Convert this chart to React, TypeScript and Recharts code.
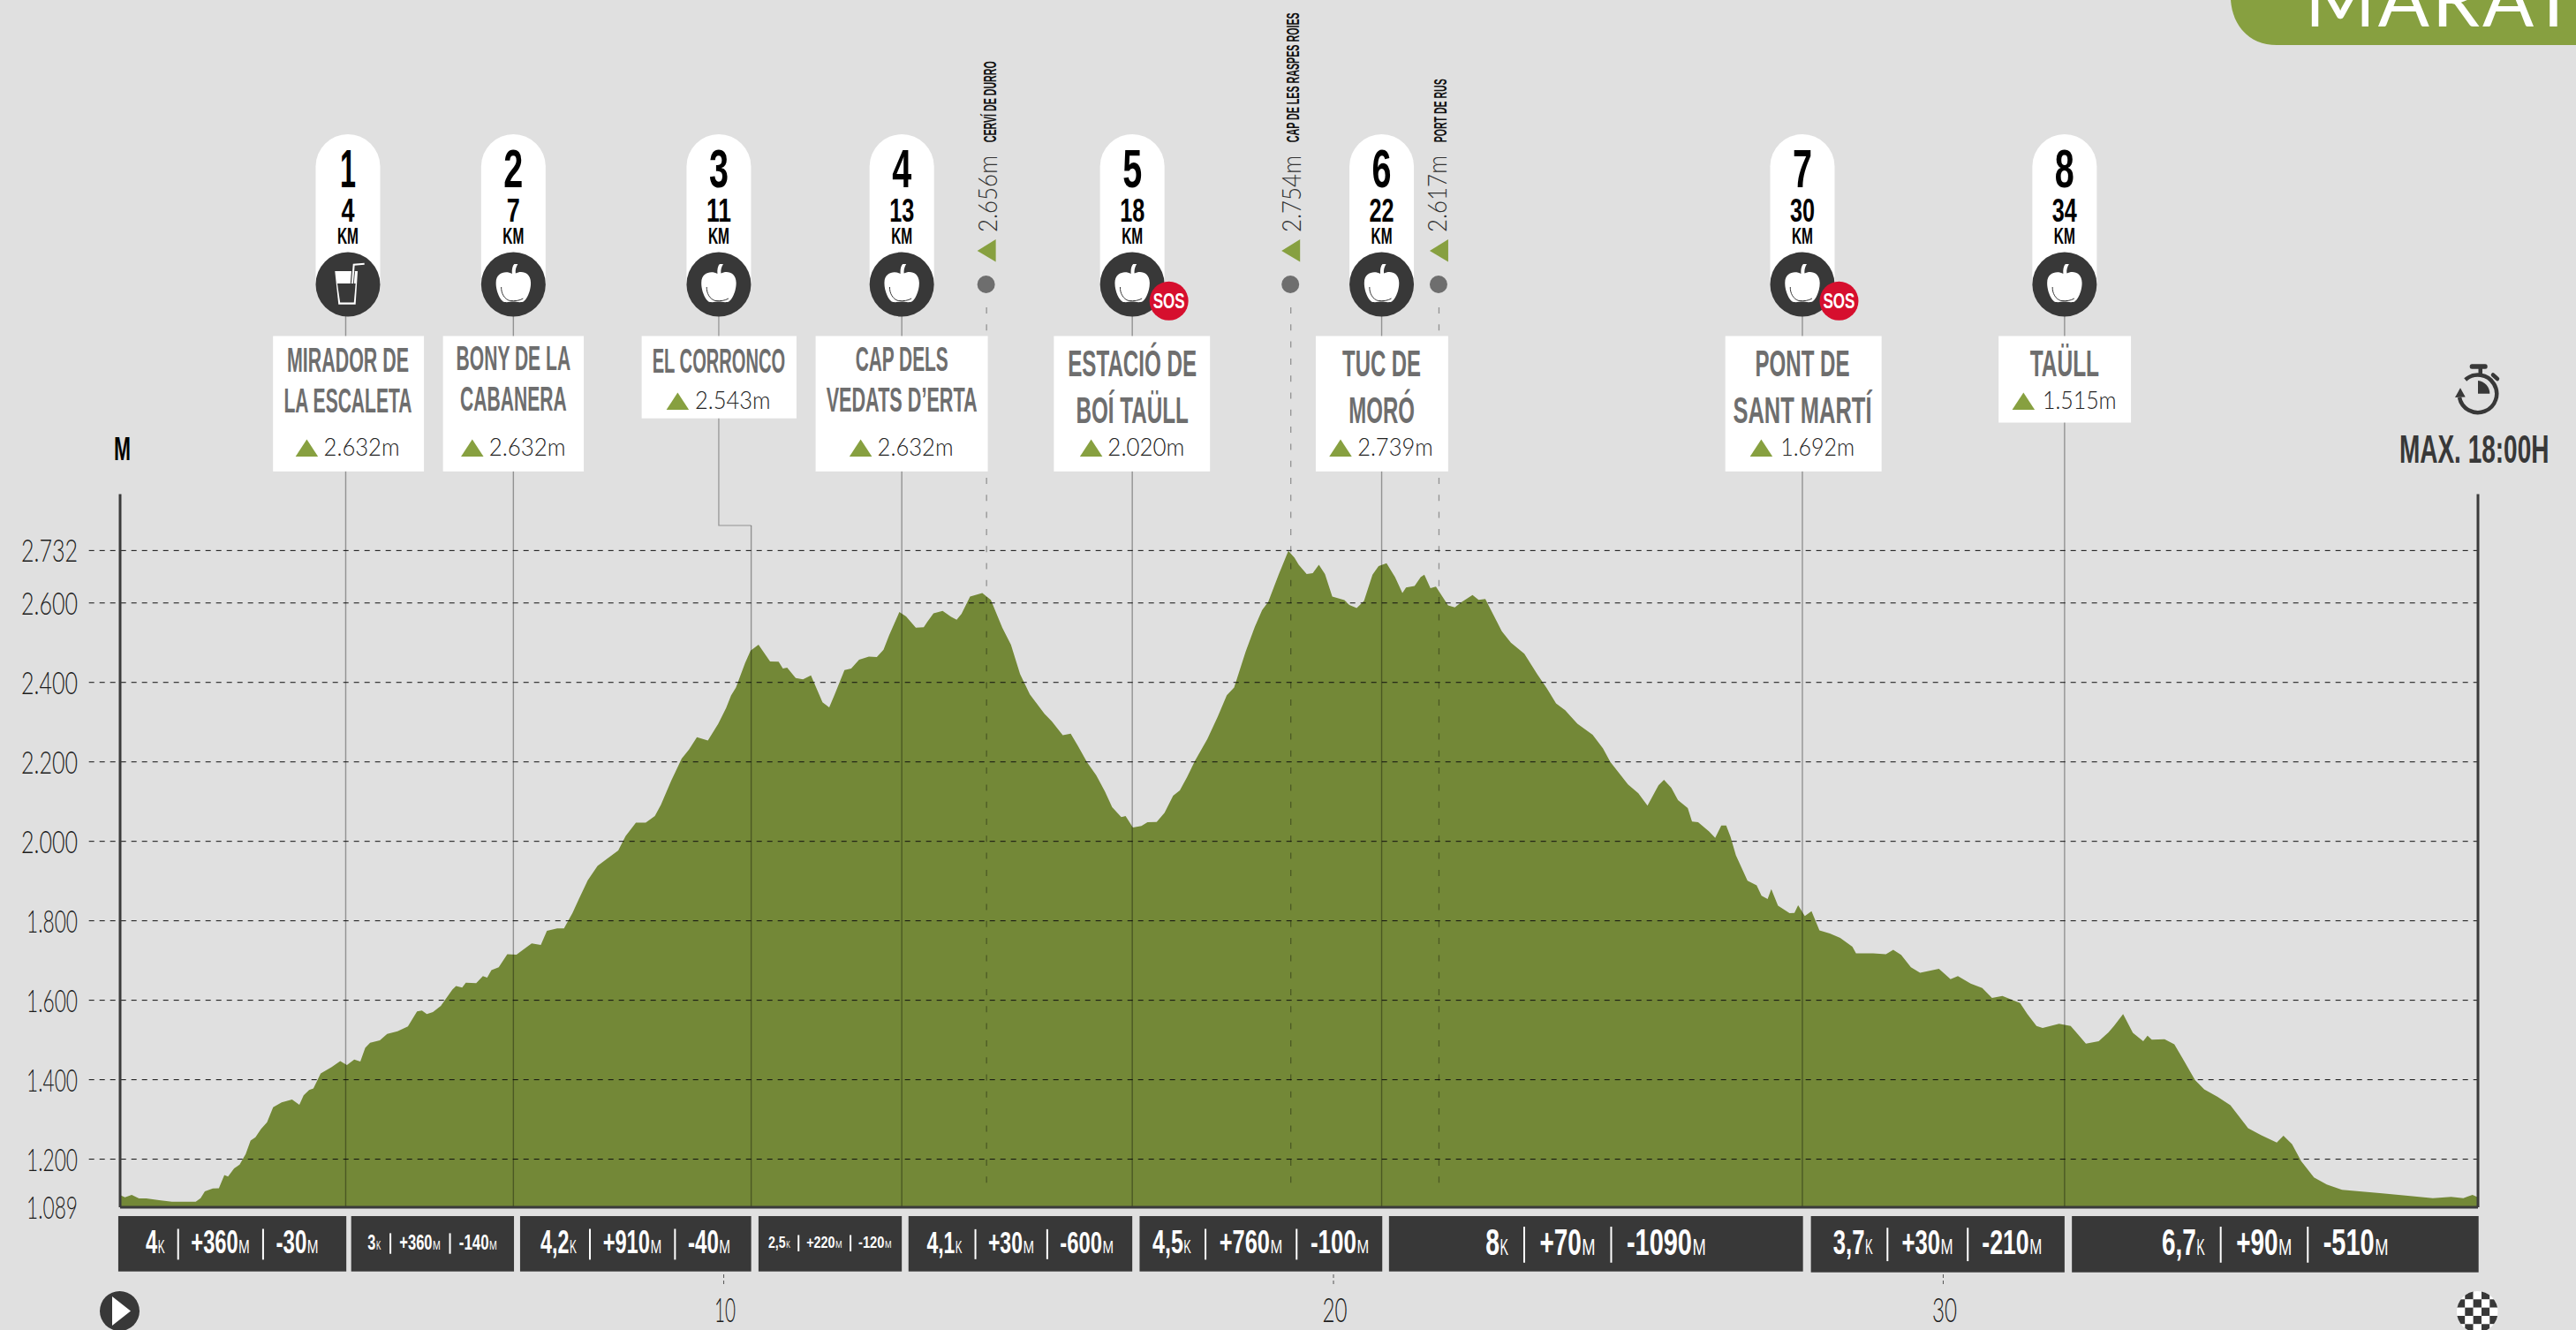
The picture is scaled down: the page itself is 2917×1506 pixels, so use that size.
import { Area, ComposedChart, ReferenceArea, ReferenceLine, XAxis, YAxis } from 'recharts'

// profile
const profileKm = [
  0.11, 0.18, 0.29, 0.41, 0.53, 0.74, 0.95, 1.12, 1.34, 1.42, 1.49, 1.62, 1.72, 1.81, 1.87, 1.97, 2.06, 2.16, 2.24, 2.32,
  2.41, 2.51, 2.61, 2.75, 2.92, 3.04, 3.11, 3.2, 3.27, 3.39, 3.57, 3.71, 3.82, 3.94, 4.04, 4.12, 4.2, 4.36, 4.48, 4.65,
  4.82, 4.97, 5.05, 5.13, 5.23, 5.36, 5.55, 5.61, 5.71, 5.77, 5.94, 6.05, 6.12, 6.19, 6.31, 6.45, 6.6, 6.85, 7.0, 7.1,
  7.27, 7.38, 7.52, 7.64, 7.77, 7.93, 8.06, 8.27, 8.39, 8.56, 8.72, 8.87, 8.97, 9.14, 9.31, 9.43, 9.56, 9.74, 9.91, 10.04,
  10.12, 10.2, 10.35, 10.44, 10.57, 10.76, 10.9, 10.97, 11.04, 11.18, 11.3, 11.43, 11.62, 11.73, 11.82, 11.98, 12.09, 12.22, 12.38, 12.51,
  12.62, 12.71, 12.88, 12.99, 13.15, 13.28, 13.34, 13.44, 13.59, 13.73, 13.82, 13.9, 14.04, 14.24, 14.38, 14.57, 14.71, 14.86, 15.02, 15.26,
  15.38, 15.56, 15.69, 15.81, 15.96, 16.11, 16.25, 16.37, 16.52, 16.59, 16.71, 16.85, 16.95, 17.1, 17.23, 17.37, 17.48, 17.6, 17.73, 17.93,
  18.1, 18.25, 18.37, 18.56, 18.71, 18.83, 18.93, 19.1, 19.26, 19.36, 19.43, 19.56, 19.66, 19.76, 19.86, 19.98, 20.18, 20.26, 20.38, 20.5,
  20.64, 20.74, 20.87, 21.01, 21.13, 21.19, 21.33, 21.43, 21.49, 21.59, 21.68, 21.88, 21.99, 22.09, 22.28, 22.38, 22.49, 22.76, 22.91, 23.13,
  23.34, 23.5, 23.65, 23.8, 24.0, 24.25, 24.42, 24.54, 24.83, 25.0, 25.15, 25.33, 25.42, 25.54, 25.65, 25.81, 25.88, 25.98, 26.16, 26.26,
  26.36, 26.44, 26.51, 26.6, 26.79, 26.94, 27.02, 27.12, 27.18, 27.29, 27.48, 27.56, 27.62, 27.73, 27.84, 27.97, 28.14, 28.31, 28.51, 28.57,
  28.85, 29.06, 29.18, 29.31, 29.47, 29.62, 29.93, 30.12, 30.24, 30.45, 30.64, 30.8, 30.97, 31.26, 31.38, 31.53, 31.63, 31.9, 32.09, 32.21,
  32.34, 32.55, 32.71, 32.8, 32.95, 33.11, 33.28, 33.35, 33.42, 33.63, 33.79, 33.92, 34.13, 34.28, 34.5, 34.71, 35.0, 35.21, 35.47, 35.58,
  35.72, 35.87, 36.08, 36.29, 36.54, 37.2, 37.62, 38.03, 38.33, 38.53, 38.68, 38.77,
]
const profileElevation = [
  1109, 1104, 1110, 1101, 1101, 1097, 1093, 1093, 1093, 1102, 1119, 1126, 1127, 1160, 1156, 1177, 1186, 1213, 1247, 1255,
  1276, 1293, 1331, 1343, 1350, 1337, 1361, 1374, 1378, 1416, 1432, 1447, 1437, 1451, 1446, 1480, 1493, 1499, 1515, 1522,
  1534, 1572, 1574, 1565, 1570, 1586, 1627, 1636, 1632, 1644, 1643, 1661, 1657, 1676, 1683, 1716, 1715, 1743, 1739, 1775,
  1781, 1781, 1820, 1860, 1902, 1938, 1953, 1977, 2013, 2047, 2047, 2064, 2092, 2153, 2208, 2231, 2262, 2254, 2296, 2336,
  2367, 2387, 2449, 2480, 2495, 2453, 2452, 2435, 2437, 2411, 2408, 2418, 2350, 2337, 2370, 2431, 2435, 2457, 2465, 2464,
  2482, 2518, 2577, 2566, 2538, 2539, 2553, 2574, 2580, 2565, 2558, 2573, 2616, 2625, 2608, 2537, 2495, 2421, 2370, 2321,
  2302, 2267, 2271, 2240, 2199, 2166, 2126, 2086, 2061, 2064, 2035, 2039, 2048, 2049, 2072, 2115, 2128, 2162, 2203, 2257,
  2313, 2368, 2387, 2478, 2540, 2582, 2603, 2671, 2731, 2714, 2696, 2673, 2675, 2696, 2673, 2616, 2607, 2595, 2587, 2605,
  2671, 2693, 2700, 2665, 2625, 2639, 2643, 2665, 2671, 2637, 2641, 2594, 2589, 2601, 2620, 2608, 2610, 2529, 2500, 2472,
  2421, 2385, 2347, 2330, 2296, 2268, 2234, 2200, 2143, 2121, 2090, 2141, 2155, 2135, 2104, 2084, 2050, 2048, 2025, 2009,
  2040, 2040, 2012, 1965, 1901, 1889, 1863, 1855, 1880, 1838, 1819, 1820, 1839, 1812, 1824, 1776, 1768, 1757, 1735, 1718,
  1718, 1716, 1727, 1714, 1683, 1669, 1679, 1653, 1661, 1642, 1631, 1606, 1611, 1593, 1565, 1535, 1530, 1541, 1535, 1514,
  1491, 1497, 1519, 1535, 1565, 1518, 1497, 1511, 1501, 1502, 1489, 1455, 1399, 1376, 1357, 1336, 1278, 1261, 1242, 1259,
  1238, 1195, 1154, 1136, 1123, 1114, 1108, 1102, 1105, 1102, 1110, 1104,
]

const elevationTicks = [1089, 1200, 1400, 1600, 1800, 2000, 2200, 2400, 2600, 2732]
const gridElevations = [1200, 1400, 1600, 1800, 2000, 2200, 2400, 2600, 2732]
const kmTicks = [10, 20, 30]

const stationKm = [3.8, 6.55, 10.45, 12.92, 16.7, 20.79, 27.69, 31.99]
const stationDistance = ['4', '7', '11', '13', '18', '22', '30', '34']
const stationNames = [
  ['MIRADOR DE', 'LA ESCALETA'],
  ['BONY DE LA', 'CABANERA'],
  ['EL CORRONCO'],
  ['CAP DELS', 'VEDATS D’ERTA'],
  ['ESTACIÓ DE', 'BOÍ TAÜLL'],
  ['TUC DE', 'MORÓ'],
  ['PONT DE', 'SANT MARTÍ'],
  ['TAÜLL'],
]
const stationHeights = ['2.632m', '2.632m', '2.543m', '2.632m', '2.020m', '2.739m', '1.692m', '1.515m']
const stationDrink = [true, false, false, false, false, false, false, false]
const stationSos = [false, false, false, false, true, false, true, false]

const peakKm = [14.31, 19.3, 21.73]
const peakNames = ['CERVÍ DE DURRO', 'CAP DE LES RASPES ROIES', 'PORT DE RUS']
const peakHeights = ['2.656m', '2.754m', '2.617m']

const segmentStart = [0.07, 3.89, 6.66, 10.57, 13.03, 16.82, 20.91, 27.83, 32.11]
const segmentEnd = [3.81, 6.56, 10.45, 12.92, 16.7, 20.8, 27.7, 31.99, 38.78]
const segmentDistance = ['4', '3', '4,2', '2,5', '4,1', '4,5', '8', '3,7', '6,7']
const segmentGain = ['+360', '+360', '+910', '+220', '+30', '+760', '+70', '+30', '+90']
const segmentLoss = ['-30', '-140', '-40', '-120', '-600', '-100', '-1090', '-210', '-510']

const profile = profileKm.map((km, i) => ({ km, elevation: profileElevation[i] }))

// layout, measured on the reference
const WIDTH = 2917
const HEIGHT = 1506
const PLOT_LEFT = 136
const PLOT_RIGHT = 2806
const PLOT_TOP = 559.5
const PLOT_BOTTOM = 1367
const PIN_Y = 322
const PIN_R = 36.5

const cardLayouts = [
  { pin: 2.5, left: -84.8, right: 86.1, bottom: 533.8, size: 38, base: [421, 466.6], widths: [138, 145], heightBase: 516, textLeft: -27.4, textWidth: 86 },
  { pin: 0, left: -79.7, right: 79.7, bottom: 533.8, size: 38, base: [419, 464.6], widths: [129.5, 120.5], heightBase: 516, textLeft: -27.5, textWidth: 86.8 },
  { pin: -36.7, left: -87.3, right: 88, bottom: 473.7, size: 38, base: [421.5], widths: [150.5], heightBase: 463, textLeft: -26.8, textWidth: 85.5 },
  { pin: 0, left: -97.6, right: 97.4, bottom: 533.8, size: 38, base: [420, 466], widths: [105, 171], heightBase: 516, textLeft: -27.6, textWidth: 86 },
  { pin: 0, left: -88.8, right: 88, bottom: 533.8, size: 42, base: [426, 478.5], widths: [146, 127.5], heightBase: 516, textLeft: -27.8, textWidth: 87 },
  { pin: 0, left: -74.6, right: 75.3, bottom: 533.8, size: 42, base: [426, 478.5], widths: [89, 74.6], heightBase: 516, textLeft: -27.4, textWidth: 85.5 },
  { pin: 0, left: -87.3, right: 89.7, bottom: 533.8, size: 42, base: [426, 478.5], widths: [107, 157], heightBase: 516, textLeft: -24.8, textWidth: 84 },
  { pin: 0, left: -74.7, right: 75.2, bottom: 478.5, size: 42, base: [426], widths: [78.4], heightBase: 463, textLeft: -24.8, textWidth: 83.6 },
]
const peakTextBase = [
  { name: 10.4, height: 11.7 },
  { name: 8.9, height: 10.9 },
  { name: 9, height: 9 },
]
const peakNameLength = [92, 147, 72]
const segmentSize = [36, 24, 36, 19, 35, 36, 42, 39, 42]
const segmentTextWidth = [196, 147, 215.6, 140, 212, 245.5, 250, 237, 257]

const NARROW = '"Liberation Sans Narrow", "Liberation Sans", sans-serif'
const LIGHT = 'Lato, "Noto Sans", sans-serif'
const GREEN = '#87a040'
const DARK = '#383838'

function FitText({ x, y, width, size, fill, children, weight = 700, family = NARROW, anchor = 'middle', transform }: any) {
  return (
    <text
      x={x}
      y={y}
      textLength={width}
      lengthAdjust="spacingAndGlyphs"
      textAnchor={anchor}
      fontFamily={family}
      fontSize={size}
      fontWeight={weight}
      fill={fill}
      transform={transform}
    >
      {children}
    </text>
  )
}

function AppleIcon({ cx, cy }: { cx: number; cy: number }) {
  return (
    <g transform={`translate(${cx} ${cy})`}>
      <path
        fill="#fff"
        d="M-1.5 -12 C-2 -17 -1 -21 1 -23 L5 -23 C3 -20 2 -16 2.5 -12.5 C9 -16 19.5 -14 19.7 -2 C20 7 15 19 10 20 C5 20.5 3 19.5 0 19.5 C-3 19.5 -6 20.5 -10 20 C-15 19 -20 7 -19.7 -2 C-19.5 -14 -8 -15.5 -1.5 -12 Z"
      />
      <path fill="none" stroke={DARK} strokeWidth="1" d="M-13.7 3 C-14 10 -10 17 -4 18.5 C2 19 7 18.5 11 16" />
    </g>
  )
}

function GlassIcon({ cx, cy }: { cx: number; cy: number }) {
  return (
    <g transform={`translate(${cx} ${cy})`}>
      <path fill="#fff" d="M-14.7 -15 L11 -15 L8.7 22.7 L-10.7 22.7 Z" />
      <path fill={DARK} d="M-12 -1 L8.7 -1 L6.8 20.4 L-8.8 20.4 Z" />
      <path fill="none" stroke={DARK} strokeWidth="4" d="M6 -15 L4.8 -1" />
      <path fill="none" stroke="#fff" strokeWidth="2" d="M5 -1 L6.7 -22.3 L18.7 -23.3" />
    </g>
  )
}

function SosBadge({ cx, cy }: { cx: number; cy: number }) {
  return (
    <g>
      <circle cx={cx} cy={cy} r={22} fill="#d60f2e" />
      <FitText x={cx} y={cy + 8} width={36} size={24} fill="#fff">
        SOS
      </FitText>
    </g>
  )
}

// whole station marker: line to the profile, pill with numbers, icon and name card
function StationMarker({ x1, index }: any) {
  const layout = cardLayouts[index]
  const cx = x1 + layout.pin
  const names = stationNames[index]
  const triBase = layout.heightBase + 1
  const top = index === 2 ? 595 : PIN_Y
  return (
    <g>
      {index === 2 && (
        <path d={`M${cx} ${PIN_Y} V595 H${x1}`} fill="none" stroke="#000" strokeOpacity={0.35} strokeWidth={1.2} />
      )}
      <line x1={x1} x2={x1} y1={top} y2={PLOT_BOTTOM} stroke="#000" strokeOpacity={0.35} strokeWidth={1.4} />
      <path
        fill="#fff"
        d={`M${cx - PIN_R} ${PIN_Y} V188.5 A${PIN_R} ${PIN_R} 0 0 1 ${cx + PIN_R} 188.5 V${PIN_Y} Z`}
      />
      <FitText x={cx} y={212} width={index === 0 ? 18 : 22} size={61} fill="#000">
        {index + 1}
      </FitText>
      <FitText x={cx} y={251} width={stationDistance[index].length > 1 ? 28 : 15} size={36} fill="#000">
        {stationDistance[index]}
      </FitText>
      <FitText x={cx} y={276} width={24} size={25} fill="#000">
        KM
      </FitText>
      <circle cx={cx} cy={PIN_Y} r={PIN_R} fill={DARK} />
      {stationDrink[index] ? <GlassIcon cx={cx} cy={PIN_Y} /> : <AppleIcon cx={cx} cy={PIN_Y} />}
      {stationSos[index] && <SosBadge cx={cx + 41.5} cy={340.8} />}
      <rect
        x={cx + layout.left}
        y={380.5}
        width={layout.right - layout.left}
        height={layout.bottom - 380.5}
        fill="#fff"
      />
      {names.map((name, i) => (
        <FitText key={name} x={cx} y={layout.base[i]} width={layout.widths[i]} size={layout.size} fill="#6e6e6e">
          {name}
        </FitText>
      ))}
      <path d={`M${cx - 59.3} ${triBase} h25.5 l-12.75 -19.5 Z`} fill={GREEN} />
      <FitText
        x={cx + layout.textLeft}
        y={layout.heightBase}
        width={layout.textWidth}
        size={27}
        fill="#222"
        weight={300}
        family={LIGHT}
        anchor="start"
      >
        {stationHeights[index]}
      </FitText>
    </g>
  )
}

function PeakMarker({ x1, index }: any) {
  const nameX = x1 + peakTextBase[index].name
  const heightX = x1 + peakTextBase[index].height
  return (
    <g>
      <line
        x1={x1}
        x2={x1}
        y1={348}
        y2={1350}
        stroke="#000"
        strokeOpacity={0.35}
        strokeWidth={1.3}
        strokeDasharray="7 12.3"
      />
      <circle cx={x1 - 0.5} cy={PIN_Y} r={10} fill="#6e6e6e" />
      <path d={`M${x1 - 10.5} 284 L${x1 + 10.5} 271 V296.6 Z`} fill={GREEN} />
      <FitText
        x={0}
        y={0}
        width={87}
        size={30}
        fill="#333"
        weight={300}
        family={LIGHT}
        anchor="start"
        transform={`translate(${heightX} 263) rotate(-90)`}
      >
        {peakHeights[index]}
      </FitText>
      <FitText
        x={0}
        y={0}
        width={peakNameLength[index]}
        size={20}
        fill="#111"
        anchor="start"
        transform={`translate(${nameX} 161.3) rotate(-90)`}
      >
        {peakNames[index]}
      </FitText>
    </g>
  )
}

// rough widths in em, only used to share a box's text width out between its pieces
function pieceWidth(piece: string) {
  let sum = 0
  for (const ch of piece) sum += ch === ',' ? 0.14 : ch === '-' ? 0.2 : ch === '+' ? 0.32 : 0.34
  return sum
}

function SegmentBox({ x, width, index }: any) {
  const size = segmentSize[index]
  const bottom = index >= 7 ? 1440.7 : 1439.7
  const baseline = 1408.3 + size * 0.358 - 2
  const small = size * 0.6
  const pieces = [
    { text: segmentDistance[index], w: pieceWidth(segmentDistance[index]), unit: 'K', unitW: 0.21 },
    { text: segmentGain[index], w: pieceWidth(segmentGain[index]), unit: 'M', unitW: 0.33 },
    { text: segmentLoss[index], w: pieceWidth(segmentLoss[index]), unit: 'M', unitW: 0.33 },
  ]
  const gap = 0.73
  const total = pieces.reduce((sum, p) => sum + p.w + p.unitW, 0) + gap * 2
  const scale = segmentTextWidth[index] / total
  const barTop = baseline - size * 0.77
  const barBottom = baseline + size * 0.2
  let cursor = x + width / 2 - segmentTextWidth[index] / 2
  const nodes: any[] = []
  pieces.forEach((p, i) => {
    const main = p.w * scale
    const unit = p.unitW * scale
    nodes.push(
      <FitText key={`t${i}`} x={cursor} y={baseline} width={main - 0.5} size={size} fill="#fff" anchor="start">
        {p.text}
      </FitText>,
    )
    cursor += main
    nodes.push(
      <FitText key={`u${i}`} x={cursor} y={baseline} width={unit - 0.5} size={small} fill="#fff" weight={400} anchor="start">
        {p.unit}
      </FitText>,
    )
    cursor += unit
    if (i < 2) {
      nodes.push(
        <rect key={`b${i}`} x={cursor + (gap * scale) / 2 - 1} y={barTop} width={2} height={barBottom - barTop} fill="#fff" />,
      )
      cursor += gap * scale
    }
  })
  return (
    <g>
      <rect x={x} y={1377} width={width} height={bottom - 1377} fill={DARK} />
      {nodes}
    </g>
  )
}

function ElevationTick({ y, payload }: any) {
  const shift = payload.value === 1089 ? 17.5 : 13
  const width = payload.value >= 2000 ? 64 : 58
  return (
    <FitText
      x={88 - width}
      y={y + shift}
      width={width}
      size={36}
      fill="#1c1c1c"
      weight={300}
      family={LIGHT}
      anchor="start"
    >
      {String(payload.value).replace(/(\d)(\d{3})$/, '$1.$2')}
    </FitText>
  )
}

function KmTick({ x, payload }: any) {
  const top = PLOT_BOTTOM + 76
  return (
    <g>
      <line x1={x} x2={x} y1={top} y2={top + 12} stroke="#555" strokeWidth={1} strokeDasharray="4 3" />
      <FitText
        x={x + 1.5}
        y={PLOT_BOTTOM + 130}
        width={payload.value === 10 ? 24 : 28}
        size={37}
        fill="#1c1c1c"
        weight={300}
        family={LIGHT}
      >
        {payload.value}
      </FitText>
    </g>
  )
}

function GridLine({ y1 }: any) {
  return (
    <line x1={100.7} x2={PLOT_RIGHT} y1={y1} y2={y1} stroke="#111" strokeWidth={1} strokeDasharray="6 6" />
  )
}

function Decorations() {
  const checks = []
  for (let row = 0; row < 5; row++) {
    for (let col = 0; col < 5; col++) {
      checks.push(
        <rect
          key={`${row}-${col}`}
          x={2782 + col * 9.33}
          y={1462 + row * 9.33}
          width={9.4}
          height={9.4}
          fill={(row + col) % 2 ? DARK : '#fff'}
        />,
      )
    }
  }
  return (
    <svg width={WIDTH} height={HEIGHT} style={{ position: 'absolute', left: 0, top: 0 }}>
      <path d={`M2526 0 C2528 30 2548 51 2578 51 H${WIDTH} V0 Z`} fill={GREEN} />
      <text x={2610} y={30} fontFamily={LIGHT} fontSize={86} fontWeight={400} fill="#fff" letterSpacing={3}>
        MARAT
      </text>
      <FitText x={129} y={521} width={19} size={36} fill="#000" anchor="start">
        M
      </FitText>
      <FitText x={2801.7} y={524} width={169.5} size={45} fill={DARK}>
        MAX. 18:00H
      </FitText>
      <path d="M2791.7 430 A21.3 21.3 0 1 1 2785 450" fill="none" stroke={DARK} strokeWidth={4.5} />
      <path d="M2786 439.3 L2791.7 449.5 L2780 450 Z" fill={DARK} />
      <rect x={2796.7} y={412.3} width={20} height={5.4} rx={2.5} fill={DARK} />
      <rect x={2806.5} y={417} width={4.5} height={8} fill={DARK} />
      <line x1={2823} y1={424.5} x2={2828} y2={429} stroke={DARK} strokeWidth={4.5} strokeLinecap="round" />
      <path d="M2806 431 A14.7 14.7 0 0 1 2819.3 445.7 H2806 Z" fill={DARK} />
      <circle cx={135.5} cy={1484.5} r={22.5} fill={DARK} />
      <path d="M127 1468 L148 1484.5 L127 1501 Z" fill="#fff" />
      <clipPath id="finish-clip">
        <circle cx={2805.3} cy={1485.3} r={23.3} />
      </clipPath>
      <g clipPath="url(#finish-clip)">{checks}</g>
    </svg>
  )
}

export default function App() {
  return (
    <div style={{ position: 'absolute', left: 0, top: 0, width: WIDTH, height: HEIGHT, background: '#e0e0e0', overflow: 'hidden' }}>
      <Decorations />
      <ComposedChart
        width={WIDTH}
        height={HEIGHT}
        data={profile}
        margin={{ top: PLOT_TOP, right: WIDTH - PLOT_RIGHT, bottom: 0, left: 0 }}
        style={{ position: 'absolute', left: 0, top: 0 }}
      >
        <XAxis
          dataKey="km"
          type="number"
          domain={[0.1, 38.77]}
          ticks={kmTicks}
          height={HEIGHT - PLOT_BOTTOM}
          tickLine={false}
          axisLine={{ stroke: '#3b3b3b', strokeWidth: 3 }}
          tick={<KmTick />}
          allowDataOverflow
        />
        <YAxis
          type="number"
          domain={[1079, 2874]}
          ticks={elevationTicks}
          width={PLOT_LEFT}
          tickLine={false}
          axisLine={{ stroke: '#3b3b3b', strokeWidth: 3 }}
          tick={<ElevationTick />}
          allowDataOverflow
        />
        <Area
          dataKey="elevation"
          type="linear"
          fill="#738837"
          fillOpacity={1}
          stroke="none"
          dot={false}
          activeDot={false}
          isAnimationActive={false}
        />
        {gridElevations.map((value) => (
          <ReferenceLine key={value} y={value} shape={(props: any) => <GridLine {...props} />} />
        ))}
        <ReferenceLine x={38.77} stroke="#3b3b3b" strokeWidth={3} />
        {peakKm.map((km, index) => (
          <ReferenceLine key={km} x={km} shape={(props: any) => <PeakMarker {...props} index={index} />} />
        ))}
        {stationKm.map((km, index) => (
          <ReferenceLine key={km} x={km} shape={(props: any) => <StationMarker {...props} index={index} />} />
        ))}
        {segmentStart.map((start, index) => (
          <ReferenceArea
            key={start}
            x1={start}
            x2={segmentEnd[index]}
            ifOverflow="visible"
            shape={(props: any) => <SegmentBox {...props} index={index} />}
          />
        ))}
      </ComposedChart>
    </div>
  )
}
